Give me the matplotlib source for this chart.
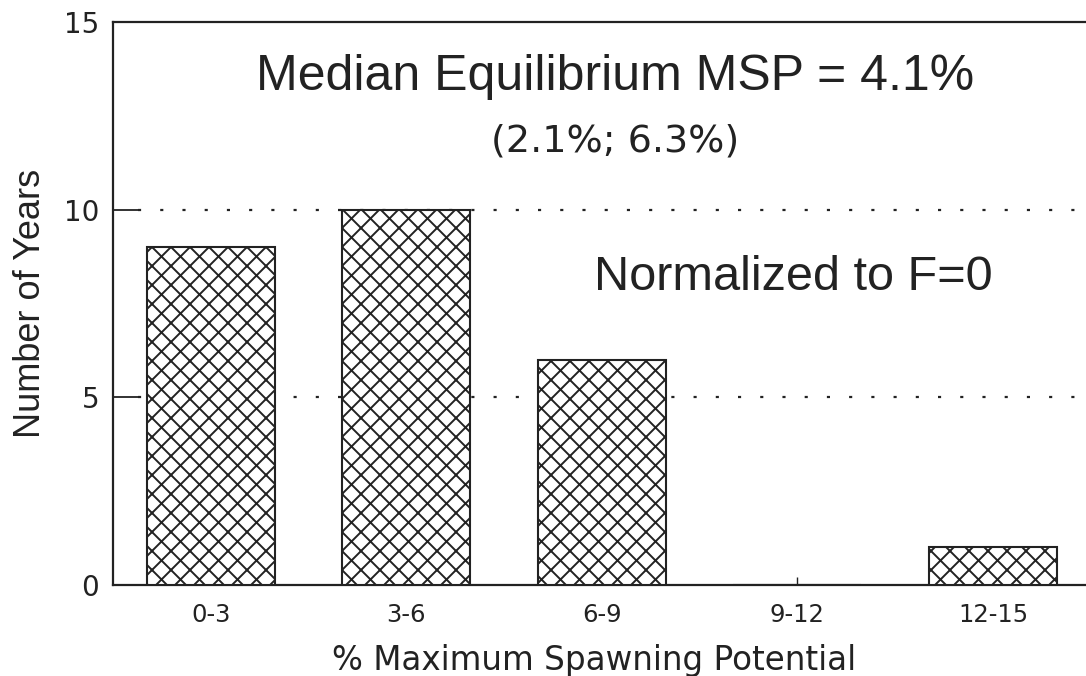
import matplotlib
matplotlib.use("Agg")
import matplotlib.pyplot as plt

categories = ["0-3", "3-6", "6-9", "9-12", "12-15"]
years = [9, 10, 6, 0, 1]
yticks = [0, 5, 10, 15]
title_text = "Median Equilibrium MSP = 4.1%"
range_text = "(2.1%; 6.3%)"
note_text = "Normalized to F=0"
xlabel = "% Maximum Spawning Potential"
ylabel = "Number of Years"

DPI = 114
P = 100 / DPI  # keep pixel sizes as if drawn at 100 dpi

plt.rcParams['hatch.linewidth'] = 1.4 * P
narrow = ['Liberation Sans', 'DejaVu Sans']
wide = ['DejaVu Sans']
ink = '#222222'

fig = plt.figure(figsize=(1086 / DPI, 676 / DPI), dpi=DPI)
ax = fig.add_axes([113/1086, 91/676, 1 - 113/1086, 563/676])

x = list(range(len(categories)))
ax.bar(x, years, width=0.655, color='white', edgecolor=ink,
       hatch='xx', linewidth=1.5 * P, zorder=3)

ax.set_xlim(-0.5, 4.476)
ax.set_ylim(0, 15)

for g in [5, 10]:
    ax.hlines(g, -0.37, 4.476, colors=ink, linewidth=1.6 * P,
              linestyles=(0, (1.4, 8.6)), zorder=1)

ax.set_xticks(x)
ax.set_xticklabels(categories, family=wide, fontsize=17.5 * P, color=ink)
ax.set_yticks(yticks)
ax.set_yticklabels([str(v) for v in yticks], family=wide, fontsize=20 * P, color=ink)
ax.tick_params(axis='y', direction='in', length=18 * P, width=1.3 * P, pad=10 * P, colors=ink)
ax.tick_params(axis='x', direction='in', length=6 * P, width=1.0 * P, pad=13 * P, colors=ink)

for s in ['left', 'top', 'bottom']:
    ax.spines[s].set_linewidth(1.6 * P)
    ax.spines[s].set_color(ink)
ax.spines['right'].set_visible(False)

ax.set_xlabel(xlabel, family=wide, fontsize=23.5 * P, color=ink)
ax.xaxis.set_label_coords((594 - 113) / 973, (585 - 670) / 563)
ax.xaxis.label.set_va('baseline')
ax.set_ylabel(ylabel, family=narrow, fontsize=26 * P, color=ink, labelpad=11.5 * P)

ax.text(2.07, 13.19, title_text, family=narrow, fontsize=36 * P, color=ink,
        ha='center', va='baseline')
ax.text(2.07, 11.56, range_text, family=wide, fontsize=27.5 * P, color=ink,
        ha='center', va='baseline')
ax.text(2.98, 7.86, note_text, family=narrow, fontsize=35 * P, color=ink,
        ha='center', va='baseline')

fig.savefig("out.png", dpi=DPI, facecolor='white')
